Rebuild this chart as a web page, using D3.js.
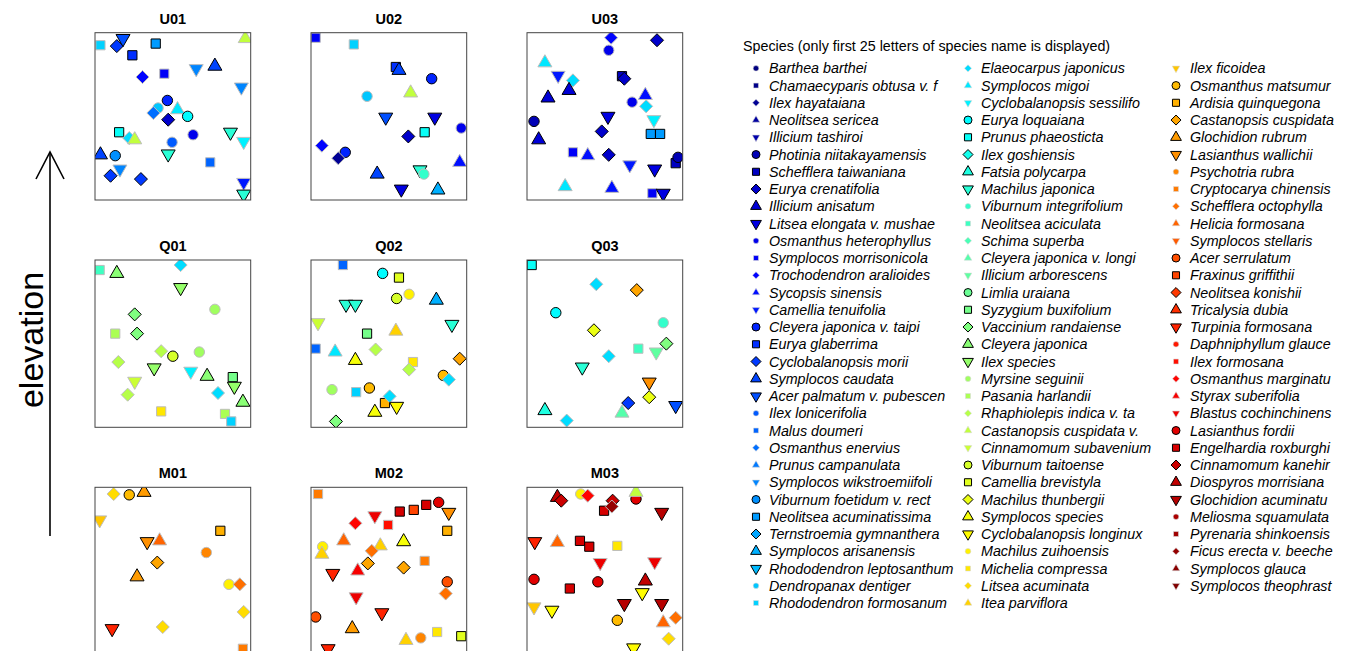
<!DOCTYPE html>
<html><head><meta charset="utf-8">
<script src="https://cdn.jsdelivr.net/npm/d3@7"></script>
<style>body{margin:0;background:#fff}svg{display:block}</style>
</head><body>
<svg id="chart" width="1345" height="651"></svg>
<script>
// ---------------- DATA ----------------
// species labels as they appear in the legend (right column is cut by the figure edge)
const species = [
"Barthea barthei","Chamaecyparis obtusa v. f","Ilex hayataiana","Neolitsea sericea","Illicium tashiroi","Photinia niitakayamensis","Schefflera taiwaniana","Eurya crenatifolia","Illicium anisatum","Litsea elongata v. mushae","Osmanthus heterophyllus","Symplocos morrisonicola","Trochodendron aralioides","Sycopsis sinensis","Camellia tenuifolia","Cleyera japonica v. taipi","Eurya glaberrima","Cyclobalanopsis morii","Symplocos caudata","Acer palmatum v. pubescen","Ilex lonicerifolia","Malus doumeri","Osmanthus enervius","Prunus campanulata","Symplocos wikstroemiifoli","Viburnum foetidum v. rect","Neolitsea acuminatissima","Ternstroemia gymnanthera","Symplocos arisanensis","Rhododendron leptosanthum","Dendropanax dentiger","Rhododendron formosanum",
"Elaeocarpus japonicus","Symplocos migoi","Cyclobalanopsis sessilifo","Eurya loquaiana","Prunus phaeosticta","Ilex goshiensis","Fatsia polycarpa","Machilus japonica","Viburnum integrifolium","Neolitsea aciculata","Schima superba","Cleyera japonica v. longi","Illicium arborescens","Limlia uraiana","Syzygium buxifolium","Vaccinium randaiense","Cleyera japonica","Ilex species","Myrsine seguinii","Pasania harlandii","Rhaphiolepis indica v. ta","Castanopsis cuspidata v.","Cinnamomum subavenium","Viburnum taitoense","Camellia brevistyla","Machilus thunbergii","Symplocos species","Cyclobalanopsis longinux","Machilus zuihoensis","Michelia compressa","Litsea acuminata","Itea parviflora",
"Ilex ficoidea","Osmanthus matsumur","Ardisia quinquegona","Castanopsis cuspidata","Glochidion rubrum","Lasianthus wallichii","Psychotria rubra","Cryptocarya chinensis","Schefflera octophylla","Helicia formosana","Symplocos stellaris","Acer serrulatum","Fraxinus griffithii","Neolitsea konishii","Tricalysia dubia","Turpinia formosana","Daphniphyllum glauce","Ilex formosana","Osmanthus marginatu","Styrax suberifolia","Blastus cochinchinens","Lasianthus fordii","Engelhardia roxburghi","Cinnamomum kanehir","Diospyros morrisiana","Glochidion acuminatu","Meliosma squamulata","Pyrenaria shinkoensis","Ficus erecta v. beeche","Symplocos glauca","Symplocos theophrast"];

const panelNames = ["U01","U02","U03","Q01","Q02","Q03","M01","M02","M03"];
const legendTitle = "Species (only first 25 letters of species name is displayed)";
const axisLabel = "elevation";

// [species index, x (m), y (m)] within 20 x 20 m plot
const U01 = [[31,0.7,18.5],[17,2.8,18.4],[19,3.6,19.3],[26,7.8,18.7],[16,4.8,17.3],[53,19.3,19.3],[24,13.0,15.7],[18,15.4,16.0],[12,6.1,14.7],[11,8.9,15.1],[24,18.8,13.5],[15,9.3,11.9],[30,8.1,11.0],[22,7.5,10.4],[33,10.6,10.8],[35,11.9,10.0],[7,9.4,9.6],[10,12.6,7.8],[36,3.1,8.1],[32,4.4,7.4],[53,5.1,7.2],[39,17.4,8.1],[34,19.1,7.0],[20,9.9,6.9],[39,9.4,5.5],[18,0.7,5.4],[25,2.6,5.3],[24,3.2,3.7],[17,2.0,2.9],[17,5.9,2.5],[21,14.8,4.5],[14,19.1,2.1],[39,19.1,0.7]];
const U02 = [[11,0.6,19.4],[31,5.5,18.6],[16,10.9,15.9],[18,11.3,15.5],[15,15.5,14.5],[53,12.8,12.8],[30,7.2,12.4],[19,9.6,9.9],[9,15.9,9.9],[36,14.6,8.1],[7,12.5,7.6],[10,19.3,8.6],[12,1.4,6.5],[15,4.4,5.7],[2,3.5,5.0],[39,14.0,3.6],[40,14.5,3.1],[18,8.5,3.1],[13,19.1,4.5],[9,11.6,1.3],[28,16.3,1.2]];
const U03 = [[12,10.8,19.4],[7,16.7,19.1],[10,10.5,17.9],[33,2.3,16.4],[32,5.9,14.3],[14,4.0,14.9],[6,12.2,14.8],[7,12.5,14.5],[8,2.7,12.2],[8,5.4,13.1],[10,13.5,11.7],[13,15.2,12.5],[32,15.3,11.2],[5,0.9,9.4],[9,10.4,10.0],[26,15.9,7.9],[26,17.1,7.9],[34,16.3,9.6],[7,9.6,8.2],[8,1.5,7.2],[11,5.9,5.7],[13,7.8,5.3],[7,10.5,5.4],[14,13.2,4.2],[9,16.4,3.7],[6,19.1,4.4],[5,19.4,5.1],[33,4.9,1.6],[11,16.1,0.8],[9,17.5,0.8],[13,10.9,1.4]];
const Q01 = [[41,0.6,18.8],[48,2.8,18.4],[32,11.0,19.4],[49,11.0,16.7],[47,5.1,13.5],[50,15.4,14.1],[47,5.4,11.2],[51,2.6,11.2],[52,3.0,7.8],[54,5.1,5.5],[52,8.5,9.1],[55,10.0,8.5],[50,13.4,9.0],[49,7.6,7.1],[34,12.3,6.7],[48,14.4,6.1],[46,17.7,6.0],[49,17.9,4.9],[52,4.2,3.9],[32,15.8,4.1],[48,19.0,3.0],[61,8.5,1.9],[51,16.7,1.6],[31,17.5,0.7]];
const Q02 = [[21,4.1,19.4],[35,9.2,18.4],[56,11.3,17.9],[39,4.5,14.7],[39,5.7,14.7],[55,11.0,15.4],[60,12.6,15.9],[54,0.9,12.5],[28,16.1,15.2],[46,7.2,11.2],[63,10.9,11.5],[39,18.1,12.3],[21,0.6,9.4],[33,3.1,9.0],[58,5.7,8.0],[67,19.1,8.2],[61,13.1,7.8],[52,8.3,9.3],[52,12.6,6.9],[65,17.0,6.2],[32,17.7,5.7],[50,2.7,4.5],[65,7.5,4.7],[31,5.8,4.2],[66,9.5,2.9],[32,10.1,3.7],[59,11.0,2.5],[58,8.2,1.8],[47,3.2,0.7]];
const Q03 = [[36,0.6,19.4],[32,8.9,17.1],[67,14.1,16.4],[35,3.7,13.7],[40,17.5,12.5],[57,8.6,11.6],[47,17.9,10.0],[41,14.3,9.4],[44,16.6,9.0],[32,10.5,8.5],[39,7.1,7.2],[69,15.7,5.4],[57,15.7,3.6],[17,13.0,2.9],[19,19.1,2.6],[38,2.3,2.0],[43,12.2,1.7],[32,5.1,0.8]];
const M01 = [[62,2.4,19.2],[65,4.4,19.1],[68,6.3,19.4],[64,0.6,16.1],[66,16.1,14.8],[69,6.7,13.5],[73,8.3,13.6],[70,14.3,12.2],[67,8.0,11.0],[68,5.4,9.3],[60,17.2,8.4],[72,18.6,8.4],[62,19.1,5.1],[62,8.7,3.3],[79,2.2,3.1],[71,19.0,0.7]];
const M02 = [[71,0.9,19.2],[85,16.4,18.2],[86,14.8,17.9],[69,17.7,17.0],[76,13.2,17.3],[86,11.4,17.1],[84,8.2,16.6],[82,5.7,15.7],[81,9.9,15.5],[66,17.5,14.8],[73,4.2,13.6],[58,11.9,13.5],[63,8.9,13.0],[72,7.8,12.4],[60,1.5,12.9],[63,1.4,12.0],[79,2.8,9.7],[83,6.0,10.0],[67,7.3,10.9],[67,11.9,10.4],[71,14.6,11.2],[75,17.5,8.7],[72,17.3,7.3],[84,5.8,6.9],[79,9.1,5.0],[75,0.6,4.5],[68,5.3,3.1],[63,12.2,1.7],[61,16.2,2.7],[56,19.3,2.2],[79,2.2,0.7],[70,14.1,2.0]];
const M03 = [[88,3.9,18.8],[60,6.9,19.2],[87,4.4,18.4],[82,7.8,19.0],[86,9.9,17.2],[87,11.0,18.4],[85,14.0,18.6],[53,14.0,19.4],[92,10.9,17.7],[89,17.3,17.0],[79,1.0,13.5],[73,3.9,13.4],[86,6.8,13.6],[86,8.0,12.9],[61,11.6,13.0],[84,16.4,11.1],[84,9.4,11.0],[85,0.9,9.0],[86,5.5,7.9],[85,9.1,8.7],[88,15.2,8.8],[59,14.8,7.4],[64,0.9,5.7],[59,3.2,5.3],[89,12.5,6.1],[89,17.3,6.1],[65,11.6,4.1],[73,17.5,3.8],[72,19.1,4.4],[62,18.2,1.9],[59,13.7,0.8]];
const panelData = [U01,U02,U03,Q01,Q02,Q03,M01,M02,M03];

// ---------------- LAYOUT ----------------
const svg = d3.select("#chart");
const FONT = "Liberation Sans, Arial, Helvetica, sans-serif";
const colLeft = [95, 311, 527], rowTop = [32.7, 260, 487.3];
const boxW = 155.7, boxH = 167.3;

const jet = t => { const c = v => Math.max(0, Math.min(1, v));
  return d3.rgb(255*c(1.5-Math.abs(4*t-3)), 255*c(1.5-Math.abs(4*t-2)), 255*c(1.5-Math.abs(4*t-1))).formatHex(); };
const color = d3.scaleSequential(jet).domain([0, species.length - 1]);

function shapePath(shape, R) {
  const p = d3.path();
  if (shape === 0) { p.arc(0, 0, R, 0, 2*Math.PI); p.closePath(); }
  else if (shape === 1) { const s = R*0.886; p.rect(-s, -s, 2*s, 2*s); }
  else if (shape === 2) { const d = R*1.253; p.moveTo(0,-d); p.lineTo(d,0); p.lineTo(0,d); p.lineTo(-d,0); p.closePath(); }
  else { const r = 1.555*R, xc = 1.347*R, yc = 0.778*R, sg = shape === 3 ? 1 : -1;
    p.moveTo(0, -sg*r); p.lineTo(xc, sg*yc); p.lineTo(-xc, sg*yc); p.closePath(); }
  return p.toString();
}
const shapeOf = i => i % 5;
const bordered = i => (i % 10) >= 5;

// panels
panelNames.forEach((name, k) => {
  const left = colLeft[k % 3], top = rowTop[Math.floor(k / 3)];
  const x = d3.scaleLinear().domain([0, 20]).range([left, left + boxW]);
  const y = d3.scaleLinear().domain([0, 20]).range([top + boxH, top]);
  const g = svg.append("g");
  const cid = "clip" + k;
  svg.append("clipPath").attr("id", cid).append("rect")
    .attr("x", left).attr("y", top).attr("width", boxW).attr("height", boxH);
  g.append("text").attr("x", left + boxW/2).attr("y", top - 9)
    .attr("text-anchor", "middle").attr("font-family", FONT).attr("font-weight", "bold")
    .attr("font-size", 14.5).attr("fill", "#000").text(name);
  g.append("g").attr("clip-path", `url(#${cid})`).selectAll("path")
    .data(panelData[k]).join("path")
    .attr("transform", d => `translate(${x(d[1])},${y(d[2])})`)
    .attr("d", d => shapePath(shapeOf(d[0]), 5.2))
    .attr("fill", d => color(d[0]))
    .attr("stroke", d => bordered(d[0]) ? "#000" : "#bdbdbd")
    .attr("stroke-width", 1);
  g.append("rect").attr("x", left).attr("y", top).attr("width", boxW).attr("height", boxH)
    .attr("fill", "none").attr("stroke", "#444").attr("stroke-width", 1);
});

// elevation arrow + label
const ag = svg.append("g").attr("stroke", "#000").attr("stroke-width", 1.6).attr("fill", "none");
ag.append("line").attr("x1", 50).attr("x2", 50).attr("y1", 536).attr("y2", 152);
ag.append("polyline").attr("points", "36,179 50,152 64,179");
svg.append("text").attr("transform", "translate(43,340) rotate(-90)")
  .attr("text-anchor", "middle").attr("font-family", FONT).attr("font-size", 34)
  .attr("fill", "#000").text(axisLabel);

// legend
svg.append("text").attr("x", 743).attr("y", 51).attr("font-family", FONT)
  .attr("font-size", 14.3).attr("fill", "#000").text(legendTitle);
const legendCols = [{sx: 756, tx: 769, start: 0, n: 32}, {sx: 968, tx: 981, start: 32, n: 32}, {sx: 1176, tx: 1190, start: 64, n: 31}];
const rowY = d3.scaleLinear().domain([0, 31]).range([68.3, 603]);
legendCols.forEach(c => {
  const idx = d3.range(c.start, c.start + c.n);
  const lg = svg.append("g");
  lg.selectAll("path").data(idx).join("path")
    .attr("transform", (d, j) => `translate(${c.sx},${rowY(j)})`)
    .attr("d", d => shapePath(shapeOf(d), bordered(d) ? 4 : 2.8))
    .attr("fill", d => color(d))
    .attr("stroke", d => bordered(d) ? "#000" : "#d8d8d8")
    .attr("stroke-width", d => bordered(d) ? 1 : 0.6);
  lg.selectAll("text").data(idx).join("text")
    .attr("x", c.tx).attr("y", (d, j) => rowY(j) + 5)
    .attr("font-family", FONT).attr("font-size", 14.3).attr("font-style", "italic")
    .attr("fill", "#000").text(d => species[d]);
});
</script>
</body></html>
